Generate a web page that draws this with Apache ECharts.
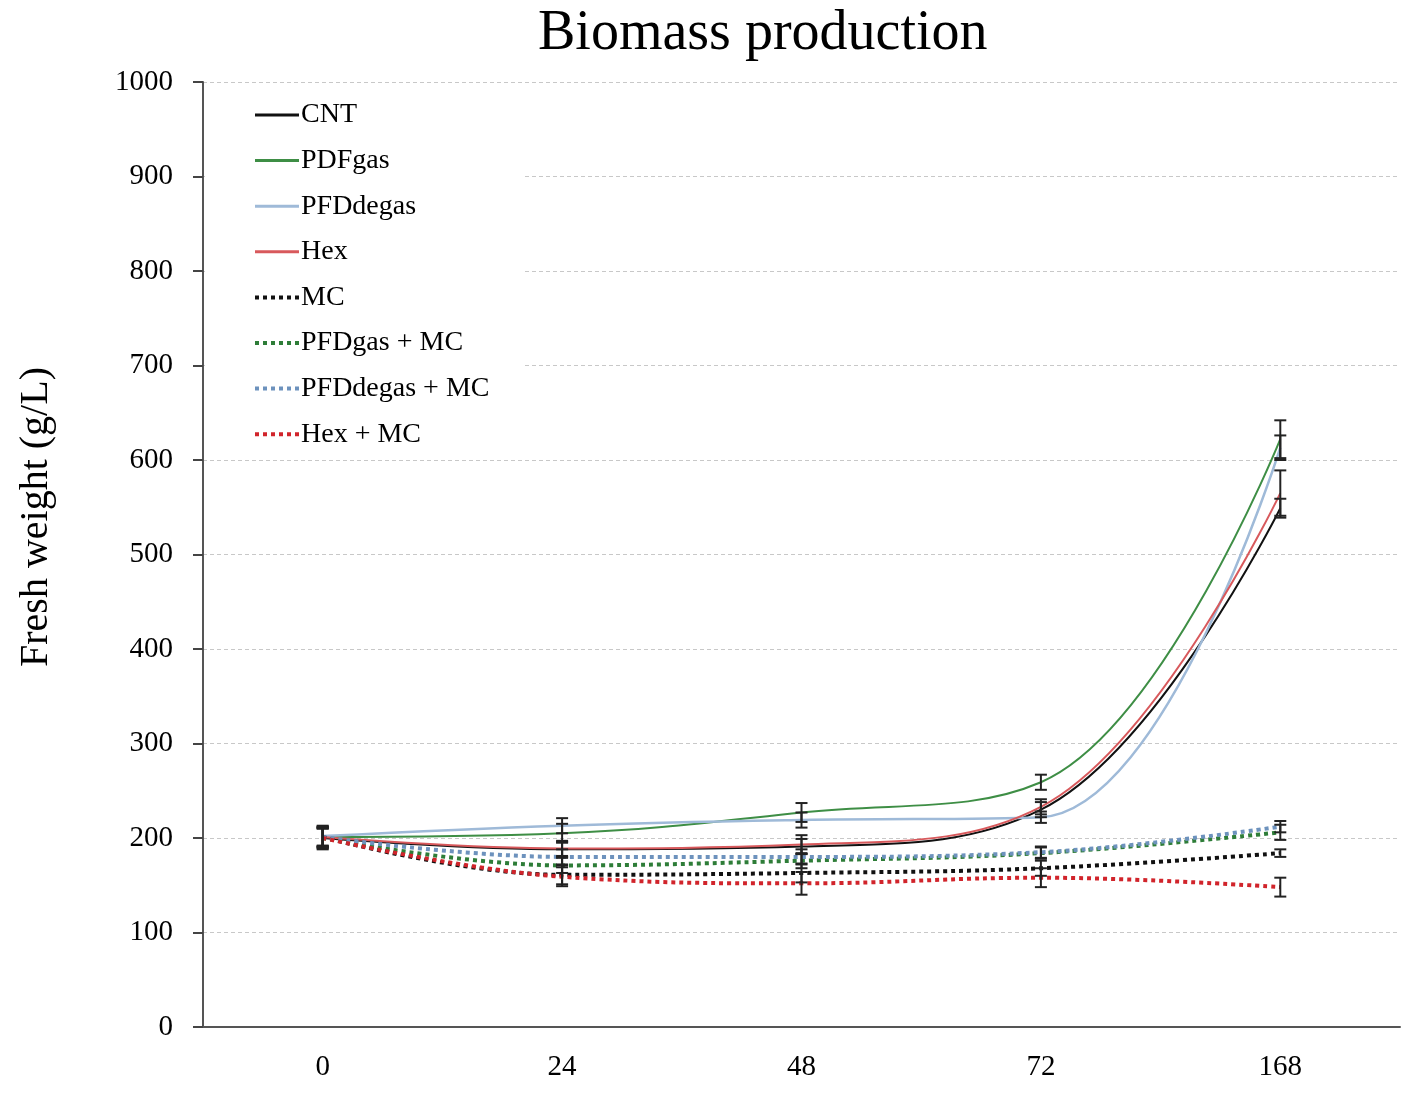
<!DOCTYPE html>
<html lang="en" style="height: 100%">
  <head>
    <meta charset="utf-8" />
    <style>
      html, body { margin: 0; padding: 0; background: #fff; }
      #container { width: 1405px; height: 1110px; }
    </style>
  </head>
  <body>
    <div id="container"></div>
    <script type="text/javascript" src="https://cdn.jsdelivr.net/npm/echarts@6/dist/echarts.min.js"></script>
    <script type="text/javascript">
      // time points (h)
      var hours = ["0", "24", "48", "72", "168"];

      // fresh weight means (g/L)
      var cnt = [200, 188, 191, 230, 549];
      var pdfGas = [201, 205, 227, 259, 622];
      var pfdDegas = [202, 213, 219, 222, 613];
      var hex = [201, 189, 193, 233, 565];
      var mc = [201, 161, 163, 168, 184];
      var pfdGasMc = [200, 171, 176, 184, 206];
      var pfdDegasMc = [201, 180, 180, 185, 212];
      var hexMc = [200, 159, 152, 158, 148];

      // error (+/-)
      var cntErr = [10, 8, 8, 8, 10];
      var pdfGasErr = [12, 10, 10, 8, 20];
      var pfdDegasErr = [10, 8, 8, 6, 13];
      var hexErr = [10, 8, 10, 8, 24];
      var mcErr = [10, 10, 10, 8, 4];
      var pfdGasMcErr = [10, 8, 8, 6, 8];
      var pfdDegasMcErr = [10, 8, 8, 6, 6];
      var hexMcErr = [12, 10, 12, 10, 10];

      var yTicks = [0, 100, 200, 300, 400, 500, 600, 700, 800, 900, 1000];

      var font = "Liberation Serif";

      var lines = [
        { name: "CNT", data: cnt, err: cntErr, color: "#111111", type: "solid", width: 2 },
        { name: "PDFgas", data: pdfGas, err: pdfGasErr, color: "#3e8e45", type: "solid", width: 2 },
        { name: "PFDdegas", data: pfdDegas, err: pfdDegasErr, color: "#9fbad8", type: "solid", width: 2.5 },
        { name: "Hex", data: hex, err: hexErr, color: "#d8595c", type: "solid", width: 2 },
        { name: "MC", data: mc, err: mcErr, color: "#111111", type: "dotted", width: 4 },
        { name: "PFDgas + MC", data: pfdGasMc, err: pfdGasMcErr, color: "#2e7d38", type: "dotted", width: 4 },
        { name: "PFDdegas + MC", data: pfdDegasMc, err: pfdDegasMcErr, color: "#6d92bd", type: "dotted", width: 4 },
        { name: "Hex + MC", data: hexMc, err: hexMcErr, color: "#d1242b", type: "dotted", width: 4 },
      ];

      var dom = document.getElementById("container");
      var myChart = echarts.init(dom, null, { renderer: "canvas" });

      var series = lines.map(function (l) {
        return {
          name: l.name,
          type: "line",
          data: l.data,
          smooth: 0.4,
          symbol: "none",
          z: 3,
          lineStyle: { color: l.color, width: l.width, type: l.type },
          itemStyle: { color: l.color },
        };
      });

      var errData = [];
      lines.forEach(function (l) {
        l.data.forEach(function (v, i) {
          errData.push([i, v - l.err[i], v + l.err[i]]);
        });
      });

      series.push({
        type: "custom",
        name: "err",
        z: 4,
        data: errData,
        encode: { x: 0, y: [1, 2] },
        renderItem: function (params, api) {
          var x = api.value(0);
          var lo = api.coord([x, api.value(1)]);
          var hi = api.coord([x, api.value(2)]);
          var w = 6;
          var st = { stroke: "#222", lineWidth: 2 };
          return {
            type: "group",
            children: [
              { type: "line", shape: { x1: lo[0], y1: lo[1], x2: hi[0], y2: hi[1] }, style: st },
              { type: "line", shape: { x1: lo[0] - w, y1: lo[1], x2: lo[0] + w, y2: lo[1] }, style: st },
              { type: "line", shape: { x1: hi[0] - w, y1: hi[1], x2: hi[0] + w, y2: hi[1] }, style: st },
            ],
          };
        },
      });

      var legendItems = lines.map(function (l) {
        return {
          name: l.name,
          lineStyle: { width: l.type === "dotted" ? 4 : 3, type: l.type, color: l.color },
        };
      });

      var option = {
        animation: false,
        backgroundColor: "#fff",
        title: {
          text: "Biomass production",
          left: 533,
          top: 1,
          textStyle: { fontFamily: font, fontSize: 56, fontWeight: "normal", color: "#000" },
        },
        graphic: [
          {
            type: "text",
            x: 36,
            y: 517,
            rotation: Math.PI / 2,
            style: {
              text: "Fresh weight (g/L)",
              font: "40px 'Liberation Serif'",
              fill: "#000",
              textAlign: "center",
              textVerticalAlign: "middle",
            },
          },
        ],
        legend: {
          orient: "vertical",
          left: 205,
          top: 95,
          itemWidth: 44,
          itemHeight: 14,
          itemGap: 17.6,
          padding: [6, 34, 6, 48],
          backgroundColor: "#fff",
          itemStyle: { opacity: 0 },
          data: legendItems,
          textStyle: { fontFamily: font, fontSize: 28, color: "#000", padding: [0, 0, 0, -3] },
        },
        grid: { left: 203, right: 5, top: 82, bottom: 83 },
        xAxis: {
          type: "category",
          data: hours,
          boundaryGap: true,
          axisLine: { lineStyle: { color: "#555", width: 2 } },
          axisTick: { length: 10, lineStyle: { color: "#555", width: 1.5 } },
          axisLabel: { fontFamily: font, fontSize: 29, color: "#000", margin: 26 },
          splitLine: { show: false },
        },
        yAxis: {
          type: "value",
          min: yTicks[0],
          max: yTicks[yTicks.length - 1],
          interval: 100,
          axisLine: { show: true, lineStyle: { color: "#555", width: 2 } },
          axisTick: { show: true, length: 10, lineStyle: { color: "#444", width: 2 } },
          axisLabel: {
            fontFamily: font,
            fontSize: 29,
            color: "#000",
            margin: 30,
            formatter: function (v) { return String(v); },
          },
          splitLine: { lineStyle: { color: "#c8c8c8", type: [4, 3], width: 1 } },
        },
        series: series,
      };

      myChart.setOption(option);
      window.addEventListener("resize", myChart.resize);
    </script>
  </body>
</html>
